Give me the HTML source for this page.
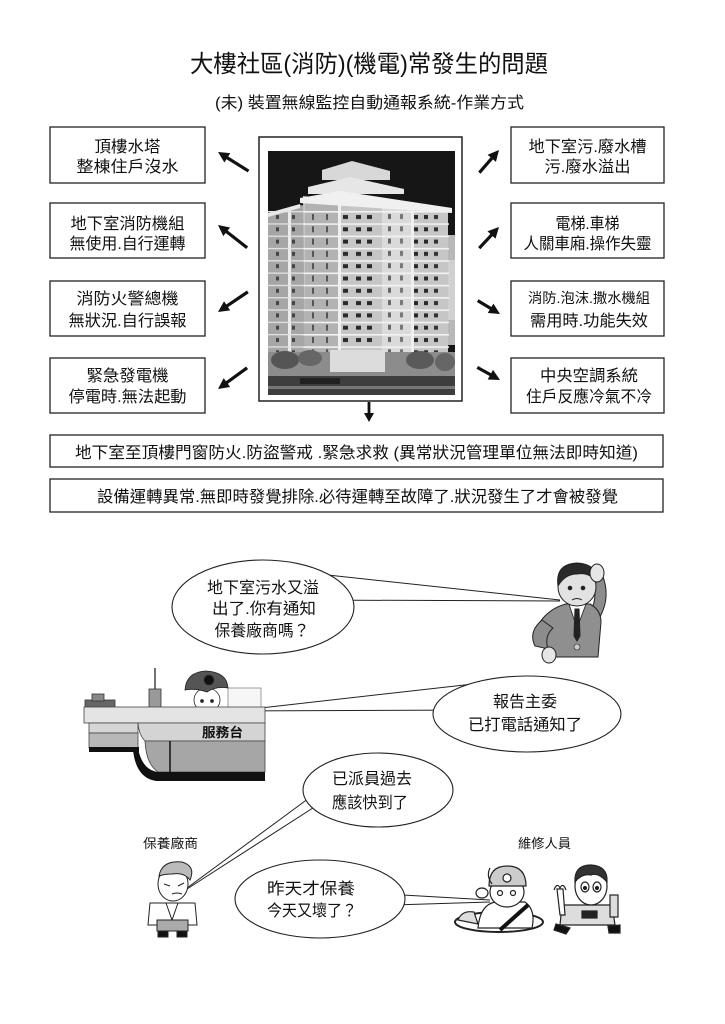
<!DOCTYPE html>
<html>
<head>
<meta charset="utf-8">
<style>
  html,body{margin:0;padding:0;background:#fff;}
  body{width:725px;height:1024px;overflow:hidden;}
  svg{display:block;}
  text{fill:#111;}
</style>
</head>
<body>
<svg width="725" height="1024" viewBox="0 0 725 1024" xmlns="http://www.w3.org/2000/svg" font-family='"Liberation Sans","Noto Sans CJK TC",sans-serif'>
  <defs>
    <pattern id="fl" patternUnits="userSpaceOnUse" x="0" y="211" width="725" height="12.3">
      <rect x="303" y="0" width="146" height="1.6" fill="#f2f2f2"/>
      <rect x="268" y="0" width="36" height="1.3" fill="#e2e2e2"/>
      <rect x="343" y="4" width="5" height="4" fill="#2a2a2a"/>
      <rect x="356" y="4" width="5" height="4" fill="#2a2a2a"/>
      <rect x="367" y="4" width="5" height="4" fill="#2a2a2a"/>
      <rect x="414" y="4" width="4" height="4" fill="#2a2a2a"/>
      <rect x="424" y="4" width="4" height="4" fill="#2a2a2a"/>
      <rect x="434" y="4" width="4" height="4" fill="#333"/>
      <rect x="312" y="3" width="2" height="6" fill="#555"/>
      <rect x="326" y="3" width="2" height="6" fill="#555"/>
      <rect x="276" y="4" width="3" height="4" fill="#444"/>
      <rect x="292" y="4" width="3" height="4" fill="#444"/>
      <rect x="388" y="3" width="3" height="5" fill="#666"/>
      <rect x="400" y="3" width="3" height="5" fill="#777"/>
    </pattern>
    <clipPath id="bc"><rect x="268" y="151" width="187" height="244"/></clipPath>
  </defs>

  <!-- Title -->
  <text x="190" y="72" font-size="24" textLength="358" lengthAdjust="spacingAndGlyphs">大樓社區(消防)(機電)常發生的問題</text>
  <text x="215" y="108" font-size="16" textLength="309" lengthAdjust="spacingAndGlyphs">(未) 裝置無線監控自動通報系統-作業方式</text>

  <!-- Left boxes -->
  <g fill="#fff" stroke="#222" stroke-width="1.3">
    <rect x="50" y="127" width="155" height="56"/>
    <rect x="50" y="203" width="155" height="55"/>
    <rect x="50" y="281" width="155" height="55"/>
    <rect x="50" y="358" width="155" height="55"/>
    <rect x="511" y="127" width="153" height="56"/>
    <rect x="511" y="203" width="153" height="55"/>
    <rect x="511" y="281" width="153" height="55"/>
    <rect x="511" y="358" width="153" height="55"/>
    <rect x="50" y="435" width="613" height="32"/>
    <rect x="50" y="479" width="613" height="33"/>
  </g>
  <g font-size="16" text-anchor="middle" lengthAdjust="spacingAndGlyphs">
    <text x="127.5" y="152" textLength="66" lengthAdjust="spacingAndGlyphs">頂樓水塔</text>
    <text x="127.5" y="172" textLength="102" lengthAdjust="spacingAndGlyphs">整棟住戶沒水</text>
    <text x="127.5" y="229" textLength="114" lengthAdjust="spacingAndGlyphs">地下室消防機組</text>
    <text x="127.5" y="249" textLength="116" lengthAdjust="spacingAndGlyphs">無使用.自行運轉</text>
    <text x="127.5" y="304" textLength="102" lengthAdjust="spacingAndGlyphs">消防火警總機</text>
    <text x="127.5" y="326" textLength="118" lengthAdjust="spacingAndGlyphs">無狀況.自行誤報</text>
    <text x="127.5" y="381" textLength="82" lengthAdjust="spacingAndGlyphs">緊急發電機</text>
    <text x="127.5" y="402" textLength="118" lengthAdjust="spacingAndGlyphs">停電時.無法起動</text>

    <text x="587.5" y="152" textLength="118" lengthAdjust="spacingAndGlyphs">地下室污.廢水槽</text>
    <text x="587.5" y="172" textLength="86" lengthAdjust="spacingAndGlyphs">污.廢水溢出</text>
    <text x="587.5" y="229" textLength="64" lengthAdjust="spacingAndGlyphs">電梯.車梯</text>
    <text x="587.5" y="249" textLength="128" lengthAdjust="spacingAndGlyphs">人關車廂.操作失靈</text>
    <text x="589" y="303" font-size="14" textLength="122" lengthAdjust="spacingAndGlyphs">消防.泡沫.撒水機組</text>
    <text x="589" y="326" textLength="118" lengthAdjust="spacingAndGlyphs">需用時.功能失效</text>
    <text x="589" y="381" textLength="98" lengthAdjust="spacingAndGlyphs">中央空調系統</text>
    <text x="589" y="402" textLength="126" lengthAdjust="spacingAndGlyphs">住戶反應冷氣不冷</text>
  </g>
  <text x="75" y="458" font-size="16" textLength="563" lengthAdjust="spacingAndGlyphs">地下室至頂樓門窗防火.防盜警戒 .緊急求救 (異常狀況管理單位無法即時知道)</text>
  <text x="97" y="502" font-size="16" textLength="521" lengthAdjust="spacingAndGlyphs">設備運轉異常.無即時發覺排除.必待運轉至故障了.狀況發生了才會被發覺</text>

  <!-- Arrows -->
  <g fill="#111">
    <g transform="translate(218,152) rotate(212)"><path d="M0,0 L-11,-5.5 L-11,5.5 Z"/><rect x="-36" y="-1.6" width="27" height="3.2"/></g>
    <g transform="translate(218,225) rotate(218)"><path d="M0,0 L-11,-5.5 L-11,5.5 Z"/><rect x="-37" y="-1.6" width="28" height="3.2"/></g>
    <g transform="translate(218,312) rotate(146)"><path d="M0,0 L-11,-5.5 L-11,5.5 Z"/><rect x="-36" y="-1.6" width="27" height="3.2"/></g>
    <g transform="translate(218,389) rotate(144)"><path d="M0,0 L-11,-5.5 L-11,5.5 Z"/><rect x="-36" y="-1.6" width="27" height="3.2"/></g>
    <g transform="translate(499,150) rotate(-49)"><path d="M0,0 L-11,-5.5 L-11,5.5 Z"/><rect x="-30" y="-1.6" width="21" height="3.2"/></g>
    <g transform="translate(499,227) rotate(-47)"><path d="M0,0 L-11,-5.5 L-11,5.5 Z"/><rect x="-29" y="-1.6" width="20" height="3.2"/></g>
    <g transform="translate(500,314) rotate(31)"><path d="M0,0 L-11,-5.5 L-11,5.5 Z"/><rect x="-26" y="-1.6" width="17" height="3.2"/></g>
    <g transform="translate(500,380) rotate(29)"><path d="M0,0 L-11,-5.5 L-11,5.5 Z"/><rect x="-26" y="-1.6" width="17" height="3.2"/></g>
    <g transform="translate(369,422) rotate(90)"><path d="M0,0 L-9,-5 L-9,5 Z"/><rect x="-20" y="-1.4" width="13" height="2.8"/></g>
  </g>

  <!-- Building picture -->
  <rect x="259" y="137" width="203" height="264" fill="#fff" stroke="#222" stroke-width="1.5"/>
  <g clip-path="url(#bc)">
    <rect x="268" y="151" width="187" height="244" fill="#161616"/>
    <rect x="446" y="235" width="10" height="110" fill="#b8b8b8"/>
    <rect x="440" y="260" width="16" height="60" fill="#d0d0d0"/>
    <!-- left wing -->
    <polygon points="268,214 300,205 322,208 322,360 268,360" fill="#a6a6a6"/>
    <rect x="288" y="210" width="3" height="150" fill="#ececec"/>
    <!-- main tower -->
    <polygon points="303,196 448,210 448,360 305,360" fill="#c6c6c6"/>
    <rect x="305" y="200" width="35" height="160" fill="#b2b2b2"/>
    <rect x="382" y="203" width="30" height="157" fill="#dadada"/>
    <rect x="338" y="200" width="3" height="160" fill="#efefef"/>
    <rect x="411" y="205" width="3" height="155" fill="#efefef"/>
    <rect x="268" y="211" width="187" height="145" fill="url(#fl)"/>
    <!-- roof tiers -->
    <polygon points="322,170 352,161 390,171 390,180 322,180" fill="#d8d8d8"/>
    <polygon points="308,187 350,177 404,189 404,194 308,194" fill="#e6e6e6"/>
    <polygon points="300,198 340,191 452,208 452,213 300,203" fill="#f0f0f0"/>
    <polygon points="268,213 300,204 300,208 268,217" fill="#e8e8e8"/>
    <!-- bottom trees / street -->
    <rect x="268" y="352" width="187" height="26" fill="#8c8c8c"/>
    <rect x="330" y="350" width="55" height="22" fill="#dcdcdc"/>
    <ellipse cx="285" cy="360" rx="14" ry="9" fill="#555"/>
    <ellipse cx="310" cy="358" rx="12" ry="8" fill="#666"/>
    <ellipse cx="420" cy="360" rx="14" ry="9" fill="#5a5a5a"/>
    <ellipse cx="445" cy="362" rx="10" ry="9" fill="#666"/>
    <rect x="268" y="376" width="187" height="19" fill="#3e3e3e"/>
    <rect x="300" y="378" width="40" height="6" fill="#222"/>
    <rect x="268" y="386" width="187" height="3" fill="#777"/>
  </g>

  <!-- Speech lines -->
  <g stroke="#222" stroke-width="1" fill="none">
    <line x1="300" y1="572" x2="560" y2="600"/>
    <line x1="300" y1="600" x2="560" y2="601"/>
    <line x1="225" y1="712" x2="500" y2="681"/>
    <line x1="225" y1="711" x2="480" y2="710"/>
    <line x1="187" y1="888" x2="320" y2="790"/>
    <line x1="187" y1="889" x2="330" y2="797"/>
    <line x1="360" y1="892.5" x2="490" y2="900"/>
    <line x1="360" y1="906" x2="490" y2="902"/>
  </g>
  <g fill="#fff" stroke="#222" stroke-width="1.1">
    <ellipse cx="263" cy="607" rx="91" ry="47"/>
    <ellipse cx="527" cy="714" rx="94" ry="38"/>
    <ellipse cx="378" cy="790" rx="75" ry="37"/>
    <ellipse cx="320" cy="899" rx="85" ry="39"/>
  </g>
  <g font-size="16">
    <text x="263" y="593" text-anchor="middle" textLength="112" lengthAdjust="spacingAndGlyphs">地下室污水又溢</text>
    <text x="264" y="614" text-anchor="middle" textLength="104" lengthAdjust="spacingAndGlyphs">出了.你有通知</text>
    <text x="262" y="636" text-anchor="middle" textLength="95" lengthAdjust="spacingAndGlyphs">保養廠商嗎？</text>
    <text x="525" y="707" text-anchor="middle" textLength="64" lengthAdjust="spacingAndGlyphs">報告主委</text>
    <text x="525" y="730" text-anchor="middle" textLength="114" lengthAdjust="spacingAndGlyphs">已打電話通知了</text>
    <text x="372" y="784" text-anchor="middle" textLength="80" lengthAdjust="spacingAndGlyphs">已派員過去</text>
    <text x="370" y="808" text-anchor="middle" textLength="76" lengthAdjust="spacingAndGlyphs">應該快到了</text>
    <text x="267" y="894" textLength="88" lengthAdjust="spacingAndGlyphs">昨天才保養</text>
    <text x="267" y="916" textLength="90" lengthAdjust="spacingAndGlyphs">今天又壞了？</text>
  </g>
  <text x="143" y="848" font-size="13" textLength="55" lengthAdjust="spacingAndGlyphs">保養廠商</text>
  <text x="518" y="848" font-size="13" textLength="53" lengthAdjust="spacingAndGlyphs">維修人員</text>

  <!-- Manager -->
  <g stroke="#222" stroke-width="1">
    <path d="M594,626 Q614,600 601,572 L591,575 Q601,600 586,618 Z" fill="#8c8c8c"/>
    <path d="M540,622 Q550,608 566,604 L590,604 Q601,610 601,622 L598,657 L548,657 Z" fill="#8f8f8f"/>
    <path d="M569,604 L586,604 L577,628 Z" fill="#fff" stroke-width=".8"/>
    <path d="M575,609 L579,609 L580,636 L577,641 L574,636 Z" fill="#222"/>
    <circle cx="577" cy="647" r="3" fill="#ccc" stroke-width=".6"/>
    <path d="M542,620 Q528,632 535,646 L548,649 Q544,636 553,628 Z" fill="#8c8c8c"/>
    <ellipse cx="549" cy="655" rx="7" ry="8" fill="#e6e6e6"/>
    <ellipse cx="577" cy="587" rx="19" ry="19" fill="#e2e2e2"/>
    <path d="M558,586 Q555,564 577,563 Q598,564 596,582 Q590,572 577,574 Q565,574 558,586 Z" fill="#2a2a2a"/>
    <ellipse cx="597" cy="573" rx="7" ry="9" fill="#e6e6e6"/>
    <circle cx="570" cy="588" r="1.8" fill="#222"/>
    <circle cx="583" cy="588" r="1.8" fill="#222"/>
    <path d="M572,600 Q577,597 582,600" fill="none"/>
  </g>

  <!-- Service desk -->
  <g stroke="#333" stroke-width="0.8">
    <rect x="85" y="700" width="30" height="10" fill="#666"/>
    <rect x="92" y="694" width="12" height="7" fill="#888"/>
    <line x1="155" y1="668" x2="155" y2="690" stroke="#444" stroke-width="1.5"/>
    <rect x="149" y="689" width="12" height="25" fill="#999"/>
    <rect x="228" y="688" width="33" height="28" fill="#f6f6f6" stroke="#888"/>
    <path d="M192,712 Q207,706 222,712 L224,718 L190,718 Z" fill="#555"/>
    <ellipse cx="207" cy="700" rx="13" ry="12" fill="#fff" stroke="#222"/>
    <path d="M185,690 Q186,672 206,671 Q227,672 228,688 Q216,686 207,692 Q195,688 185,690 Z" fill="#555" stroke="#222"/>
    <circle cx="209" cy="680" r="5" fill="#111"/>
    <circle cx="202" cy="701" r="1.5" fill="#222"/>
    <circle cx="212" cy="701" r="1.5" fill="#222"/>
  </g>
  <g stroke="#444" stroke-width="0.8">
    <rect x="84" y="707" width="181" height="16" fill="#e4e4e4"/>
    <rect x="89" y="723" width="49" height="10" fill="#d6d6d6"/>
    <rect x="89" y="733" width="49" height="15" fill="#b8b8b8"/>
    <path d="M138,723 L265,723 L265,741 L145,741 Q139,735 138,723 Z" fill="#d4d4d4"/>
    <path d="M145,741 L265,741 L265,772 L158,772 Q146,764 145,741 Z" fill="#a6a6a6"/>
    <line x1="170" y1="741" x2="170" y2="772" stroke="#111" stroke-width="1.5"/>
  </g>
  <rect x="89" y="747" width="50" height="5" fill="#111"/>
  <path d="M138,748 Q142,770 158,772 L265,772 L265,781 L156,781 Q136,778 133,750 Z" fill="#111"/>
  <text x="202" y="737" font-size="13" font-weight="bold" textLength="41" lengthAdjust="spacingAndGlyphs">服務台</text>

  <!-- Vendor -->
  <g stroke="#222" stroke-width="1">
    <path d="M150,903 L195,903 L197,925 L148,925 Z" fill="#fff"/>
    <path d="M166,903 L172,920 L178,903" fill="none"/>
    <rect x="157" y="920" width="31" height="11" fill="#aaa"/>
    <rect x="158" y="931" width="10" height="6" fill="#111"/>
    <rect x="177" y="931" width="10" height="6" fill="#111"/>
    <ellipse cx="173" cy="884" rx="15" ry="17" fill="#fff"/>
    <path d="M159,876 Q162,860 182,862 Q196,866 190,880 Q184,872 172,874 Q164,874 159,876 Z" fill="#bbb"/>
    <path d="M164,884 L170,886 M178,886 L184,883" fill="none"/>
    <path d="M172,894 Q177,892 182,894" fill="none"/>
  </g>

  <!-- Workers -->
  <g stroke="#222" stroke-width="1.2">
    <ellipse cx="499" cy="922" rx="44" ry="10" fill="#fff" stroke-width="2"/>
    <path d="M478,928 Q480,905 495,902 L525,902 Q536,910 532,928 Z" fill="#fff"/>
    <path d="M500,930 L528,905" stroke="#111" stroke-width="4"/>
    <path d="M458,920 Q462,910 474,912 L478,924 Z" fill="#ddd"/>
    <ellipse cx="507" cy="892" rx="17" ry="15" fill="#fff"/>
    <path d="M489,886 Q489,866 507,866 Q526,866 526,886 Z" fill="#ccc"/>
    <circle cx="507" cy="878" r="4" fill="#fff"/>
    <path d="M490,868 Q486,876 492,884" fill="none"/>
    <circle cx="500" cy="893" r="2.5" fill="#fff"/>
    <circle cx="513" cy="893" r="2.5" fill="#fff"/>
    <ellipse cx="482" cy="893" rx="6" ry="5" fill="#fff"/>
  </g>
  <g stroke="#222" stroke-width="1.2">
    <path d="M562,905 L612,905 L615,925 L560,925 Z" fill="#ddd"/>
    <rect x="582" y="911" width="15" height="7" fill="#222"/>
    <path d="M556,924 L570,928 L566,934 L554,930 Z" fill="#111"/>
    <path d="M608,926 L620,925 L620,933 L609,933 Z" fill="#111"/>
    <path d="M557,889 L563,889 L565,915 L560,915 Z" fill="#fff"/>
    <path d="M554,890 Q557,882 560,888 Q563,882 566,890" fill="none"/>
    <rect x="610" y="895" width="8" height="22" fill="#ddd"/>
    <ellipse cx="591" cy="886" rx="16" ry="19" fill="#fff"/>
    <path d="M575,882 Q574,865 591,865 Q608,866 607,882 Q598,872 591,875 Q582,873 575,882 Z" fill="#333"/>
    <ellipse cx="585" cy="887" rx="4" ry="5" fill="#fff"/>
    <ellipse cx="597" cy="887" rx="4" ry="5" fill="#fff"/>
    <circle cx="585" cy="888" r="1.5" fill="#222"/>
    <circle cx="597" cy="888" r="1.5" fill="#222"/>
  </g>
</svg>
</body>
</html>
